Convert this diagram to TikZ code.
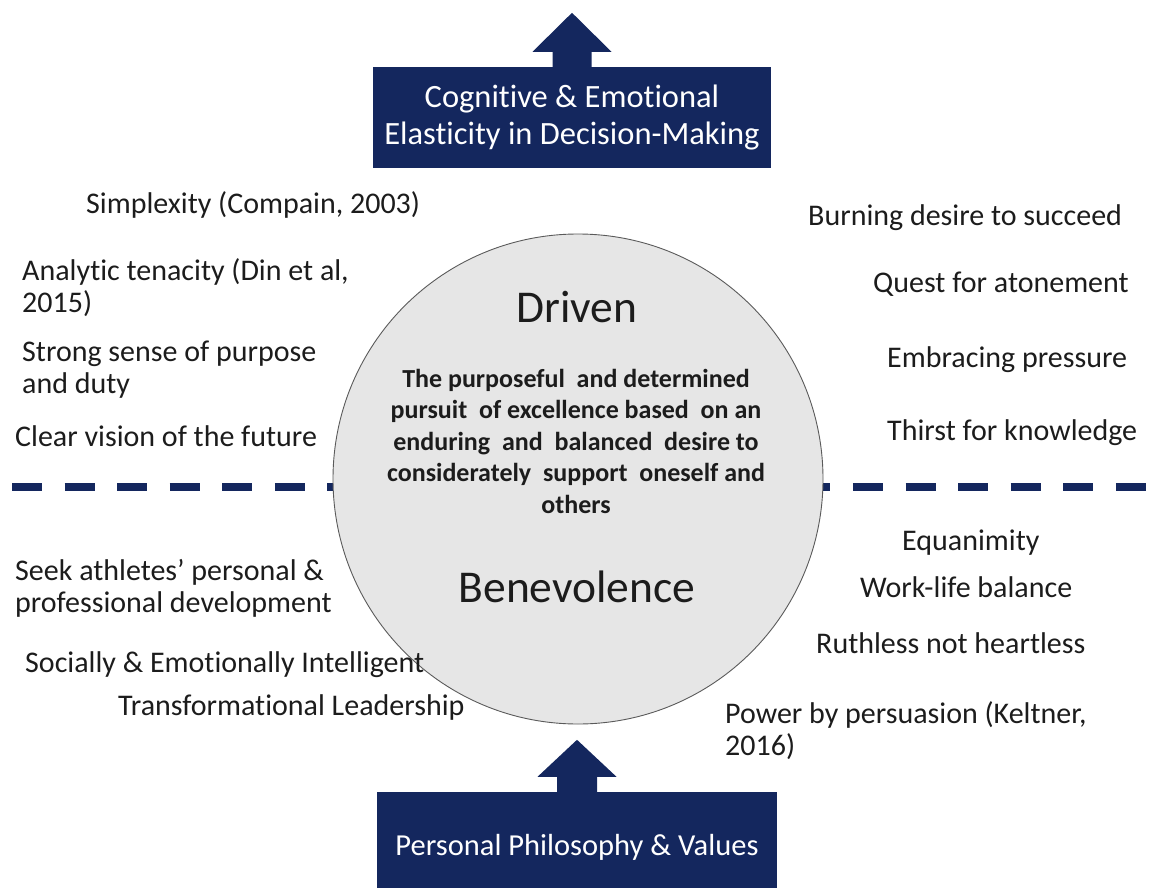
\documentclass[tikz,border=0pt]{standalone}
\usepackage{fontspec}
\setmainfont{Carlito}[Ligatures={NoCommon}]
\usetikzlibrary{calc}
\definecolor{navy}{HTML}{14275E}
\definecolor{circfill}{HTML}{E6E6E6}
\definecolor{circline}{HTML}{5A5A5A}
\definecolor{ink}{HTML}{1C1C1C}
\begin{document}
\begin{tikzpicture}[x=1pt,y=-1pt,
  item/.style={inner sep=0pt, anchor=base west, align=left, text=ink,
    font=\fontsize{30}{32}\selectfont},
  navybox/.style={fill=navy, draw=none, text=white, align=center, inner sep=0pt,
    font=\fontsize{32.5}{37}\selectfont},
  bigword/.style={inner sep=0pt, anchor=base, text=ink, font=\fontsize{45.5}{50}\selectfont},
  defn/.style={inner sep=0pt, anchor=base, align=center, text=ink,
    font=\bfseries\fontsize{26}{31.5}\selectfont},
  divider/.style={draw=navy, line width=7.4pt, dash pattern=on 30pt off 22.56pt}]
\useasboundingbox (0,0) rectangle (1151,888);
% dashed divider
\coordinate (dl) at (12,487);
\coordinate (dr) at (1165,487);
\draw[divider] (dl) -- (dr);
% circle
\node[circle, draw=circline, fill=circfill, line width=0.9pt, minimum size=490pt, inner sep=0pt] (core) at (578,479) {};
\node[bigword] (driven) at (577,322) {Driven};
\node[bigword] (benev) at (577,602) {Benevolence};
\node[defn] (def) at (576,513) {The purposeful \ and determined\\pursuit \ of excellence based \ on an\\enduring \ and \ balanced \ desire to\\considerately \ support \ oneself and\\others};
% top box and arrow
\node[navybox, minimum width=398pt, minimum height=101pt] (topbox) at (572,117.5) {Cognitive \& Emotional\\Elasticity in Decision-Making};
\fill[navy] ($(topbox.north)+(-19.5,1)$) -- ++(0,-16) -- ++(-20,0) -- ($(topbox.north)+(0,-54)$)
  -- ($(topbox.north)+(39.5,-15)$) -- ++(-20,0) -- ($(topbox.north)+(19.5,1)$) -- cycle;
% bottom box and arrow
\node[navybox, minimum width=400pt, minimum height=110pt, font=\fontsize{30.5}{36}\selectfont] (botbox) at (577,847) {Personal Philosophy \& Values};
\fill[navy] ($(botbox.north)+(-20,1)$) -- ++(0,-16) -- ++(-19.5,0) -- ($(botbox.north)+(0,-52)$)
  -- ($(botbox.north)+(39.5,-15)$) -- ++(-19.5,0) -- ($(botbox.north)+(20,1)$) -- cycle;
% left items
\node[item] (l1) at (86,213) {Simplexity (Compain, 2003)};
\node[item] (l2) at (22,312) {Analytic tenacity (Din et al,\\2015)};
\node[item] (l3) at (22,393) {Strong sense of purpose\\and duty};
\node[item] (l4) at (15,446) {Clear vision of the future};
\node[item] (l5) at (15,612) {Seek athletes’ personal \&\\professional development};
\node[item] (l6) at (25,672) {Socially \& Emotionally Intelligent};
\node[item] (l7) at (118,715) {Transformational Leadership};
% right items
\node[item] (r1) at (808,225) {Burning desire to succeed};
\node[item] (r2) at (873,292) {Quest for atonement};
\node[item] (r3) at (887,367) {Embracing pressure};
\node[item] (r4) at (887,440) {Thirst for knowledge};
\node[item] (r5) at (902,550) {Equanimity};
\node[item] (r6) at (860,597) {Work-life balance};
\node[item] (r7) at (816,653) {Ruthless not heartless};
\node[item] (r8) at (725,755) {Power by persuasion (Keltner,\\2016)};
\end{tikzpicture}
\end{document}
